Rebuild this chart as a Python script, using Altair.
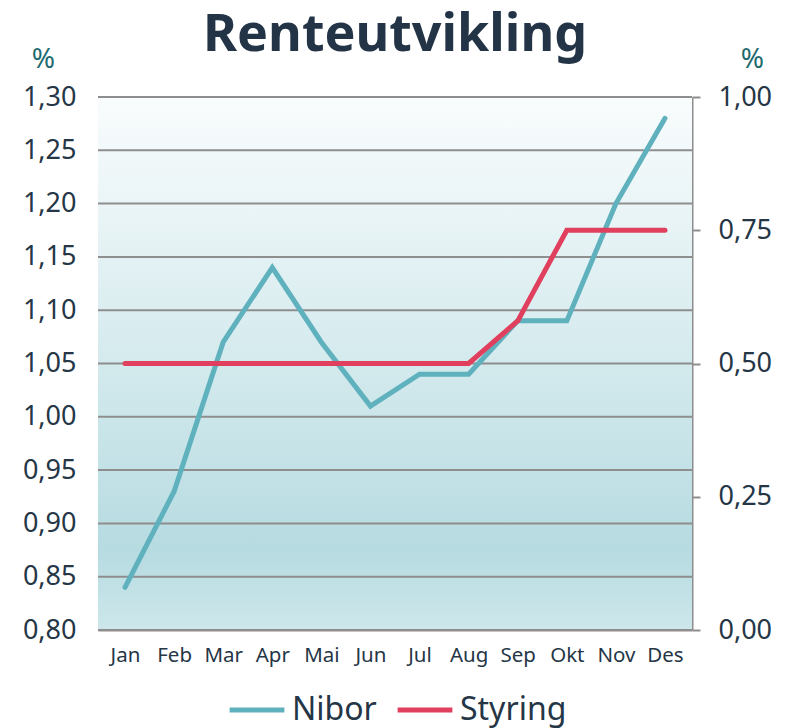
import altair as alt
import pandas as pd

months = ["Jan", "Feb", "Mar", "Apr", "Mai", "Jun", "Jul", "Aug", "Sep", "Okt", "Nov", "Des"]
nibor = [0.84, 0.93, 1.07, 1.14, 1.07, 1.01, 1.04, 1.04, 1.09, 1.09, 1.20, 1.28]
styring = [0.50, 0.50, 0.50, 0.50, 0.50, 0.50, 0.50, 0.50, 0.58, 0.75, 0.75, 0.75]
left_ticks = [0.80, 0.85, 0.90, 0.95, 1.00, 1.05, 1.10, 1.15, 1.20, 1.25, 1.30]
right_ticks = [0.00, 0.25, 0.50, 0.75, 1.00]
series_names = ["Nibor", "Styring"]
series_colors = ["#5eb1bd", "#e0405e"]

FONT = "Noto Sans"
TEXT = "#253646"
GRID = "#8e8e8e"

df_nibor = pd.DataFrame({"month": months, "value": nibor, "series": "Nibor"})
df_styr = pd.DataFrame({"month": months, "value": styring, "series": "Styring"})
df_grid = pd.DataFrame({"g": left_ticks})

x_enc = alt.X("month:N", sort=months, scale=alt.Scale(type="point", padding=0.55),
              axis=alt.Axis(title=None, labelFontSize=20.5, labelColor=TEXT, labelFont=FONT,
                            ticks=False, labelPadding=15, domainColor=GRID, domainWidth=2,
                            labelAngle=0, grid=False))

left_scale = alt.Scale(domain=[0.80, 1.30], nice=False, zero=False)
right_scale = alt.Scale(domain=[0.0, 1.0], nice=False, zero=False)

color_enc = alt.Color("series:N", scale=alt.Scale(domain=series_names, range=series_colors),
                      legend=alt.Legend(title=None, orient="none", legendX=129, legendY=583,
                                        direction="horizontal", symbolType="stroke",
                                        symbolSize=3000, symbolStrokeWidth=5,
                                        labelFontSize=32, labelFont=FONT, labelColor=TEXT,
                                        columnPadding=10, labelOffset=5))

gradient = alt.LinearGradient(
    gradient="linear", x1=0, x2=0, y1=0, y2=1,
    stops=[alt.GradientStop(offset=0, color="#f9fcfd"),
           alt.GradientStop(offset=0.45, color="#d8ecef"),
           alt.GradientStop(offset=0.85, color="#b6dbe1"),
           alt.GradientStop(offset=1, color="#cde7eb")])

bg = alt.Chart(df_nibor).mark_rect(color=gradient).encode(
    y=alt.datum(1.30, scale=left_scale),
    y2=alt.datum(0.80),
)

grid = alt.Chart(df_grid).mark_rule(color=GRID, strokeWidth=2).encode(
    y=alt.Y("g:Q", scale=left_scale)
)

left_axis = alt.Axis(values=left_ticks, labelExpr="replace(format(datum.value, '.2f'), '.', ',')",
                     labelFontSize=27, labelFont=FONT, labelColor=TEXT, ticks=False,
                     domain=False, grid=False, labelPadding=22, orient="left",
                     title="%", titleAngle=0, titleX=-55, titleY=-38, titleAlign="center",
                     titleBaseline="middle", titleFontSize=28, titleFont=FONT,
                     titleFontWeight="normal", titleColor="#1d6a6f")

right_axis = alt.Axis(values=right_ticks, labelExpr="replace(format(datum.value, '.2f'), '.', ',')",
                      labelFontSize=27, labelFont=FONT, labelColor=TEXT, ticks=True,
                      tickSize=8, tickWidth=2, tickColor=GRID, domain=True, domainColor=GRID,
                      domainWidth=2, grid=False, labelPadding=18, orient="right",
                      title="%", titleAngle=0, titleX=60, titleY=-38, titleAlign="center",
                      titleBaseline="middle", titleFontSize=28, titleFont=FONT,
                      titleFontWeight="normal", titleColor="#1d6a6f")

nibor_line = alt.Chart(df_nibor).mark_line(strokeWidth=5, strokeCap="round").encode(
    x=x_enc,
    y=alt.Y("value:Q", scale=left_scale, axis=left_axis),
    color=color_enc,
)

styr_line = alt.Chart(df_styr).mark_line(strokeWidth=5, strokeCap="round").encode(
    x=x_enc,
    y=alt.Y("value:Q", scale=right_scale, axis=right_axis),
    color=color_enc,
)

left_layer = alt.layer(bg, grid, nibor_line)

chart = alt.layer(left_layer, styr_line).resolve_scale(y="independent").properties(
    width=594, height=533,
    autosize=alt.AutoSizeParams(type="none"),
    padding={"left": 90, "top": 89, "right": 92, "bottom": 100},
    title=alt.TitleParams("Renteutvikling", fontSize=52, font=FONT, fontWeight="bold",
                          color="#243447", anchor="middle", offset=0, dy=17),
).configure_view(stroke=None)

chart.save("out.html", embed_options={"renderer": "svg", "actions": False})
